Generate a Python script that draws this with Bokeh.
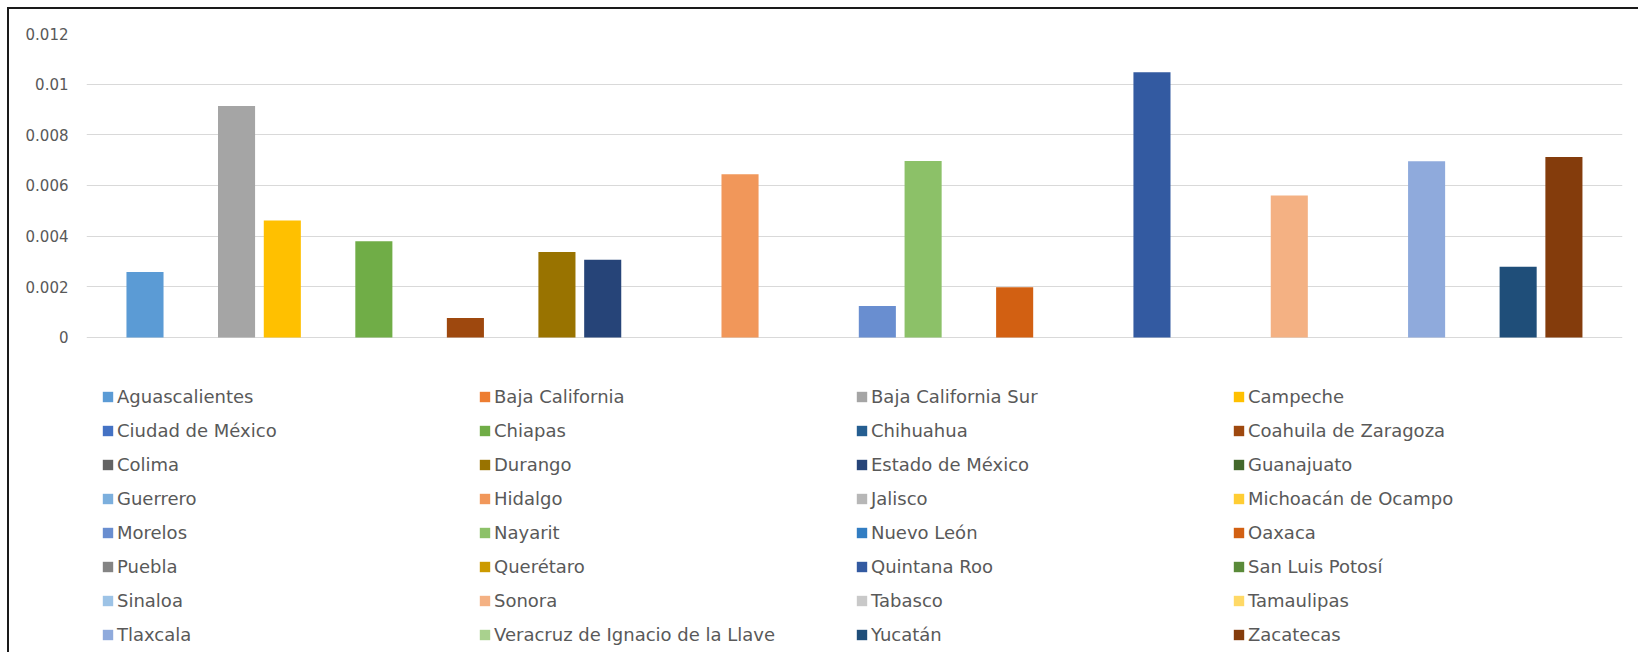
from bokeh.plotting import figure
from bokeh.models import ColumnDataSource, Range1d, FixedTicker, Legend, LegendItem
from bokeh.embed import file_html
from bokeh.resources import INLINE

states = [
    "Aguascalientes", "Baja California", "Baja California Sur", "Campeche",
    "Ciudad de México", "Chiapas", "Chihuahua", "Coahuila de Zaragoza",
    "Colima", "Durango", "Estado de México", "Guanajuato",
    "Guerrero", "Hidalgo", "Jalisco", "Michoacán de Ocampo",
    "Morelos", "Nayarit", "Nuevo León", "Oaxaca",
    "Puebla", "Querétaro", "Quintana Roo", "San Luis Potosí",
    "Sinaloa", "Sonora", "Tabasco", "Tamaulipas",
    "Tlaxcala", "Veracruz de Ignacio de la Llave", "Yucatán", "Zacatecas",
]
values = [
    0.00258, 0.0, 0.00914, 0.00462,
    0.0, 0.00380, 0.0, 0.00077,
    0.0, 0.00337, 0.00307, 0.0,
    0.0, 0.00644, 0.0, 0.0,
    0.00124, 0.00697, 0.0, 0.00198,
    0.0, 0.0, 0.01047, 0.0,
    0.0, 0.00560, 0.0, 0.0,
    0.00696, 0.0, 0.00279, 0.00712,
]
colors = [
    "#5B9BD5", "#ED7D31", "#A5A5A5", "#FFC000",
    "#4472C4", "#70AD47", "#255E91", "#9E480E",
    "#636363", "#997300", "#264478", "#43682B",
    "#7CAFDD", "#F1975A", "#B7B7B7", "#FFCD33",
    "#698ED0", "#8CC168", "#327DC2", "#D26012",
    "#848484", "#CC9A00", "#335AA1", "#5A8A39",
    "#9DC3E6", "#F4B183", "#C9C9C9", "#FFD966",
    "#8FAADC", "#A9D18E", "#1F4E79", "#843C0C",
]
y_ticks = [0, 0.002, 0.004, 0.006, 0.008, 0.01, 0.012]
y_tick_labels = ["0", "0.002", "0.004", "0.006", "0.008", "0.01", "0.012"]

source = ColumnDataSource(dict(
    x=list(range(len(states))), top=values, color=colors, state=states,
))

p = figure(
    width=1631, height=645, output_backend="svg", toolbar_location=None,
    x_range=Range1d(-1.278, 32.28), y_range=Range1d(-0.0122, 0.012),
    min_border_left=77, min_border_right=18, min_border_top=24, min_border_bottom=8,
    styles={"margin-left": "7px", "margin-top": "7px",
            "border-left": "2px solid #1a1a1a", "border-top": "2px solid #1a1a1a"},
)
p.outline_line_color = None
p.background_fill_color = "white"
p.border_fill_color = "white"

r = p.vbar(x="x", top="top", bottom=0, width=0.81, fill_color="color",
           line_color=None, source=source)

p.xaxis.visible = False
p.xgrid.visible = False

p.yaxis.ticker = FixedTicker(ticks=y_ticks)
p.yaxis.major_label_overrides = {t: l for t, l in zip(y_ticks, y_tick_labels)}
p.yaxis.axis_line_color = None
p.yaxis.major_tick_line_color = None
p.yaxis.minor_tick_line_color = None
p.yaxis.major_tick_out = 0
p.yaxis.major_tick_in = 0
p.yaxis.major_label_standoff = 18
p.yaxis.major_label_text_font = "DejaVu Sans"
p.yaxis.major_label_text_font_size = "15px"
p.yaxis.major_label_text_color = "#595959"
p.ygrid.ticker = FixedTicker(ticks=y_ticks)
p.ygrid.grid_line_color = "#D9D9D9"
p.ygrid.grid_line_width = 1

items = [LegendItem(label=s, renderers=[r], index=i) for i, s in enumerate(states)]
legend = Legend(
    items=items, location=(15, 1), orientation="horizontal", ncols=4,
    glyph_width=13, glyph_height=13, label_height=20, label_width=348,
    label_standoff=3, spacing=13, padding=0, margin=0,
    border_line_color=None, background_fill_alpha=0,
    label_text_font="DejaVu Sans", label_text_font_size="18px",
    label_text_color="#595959",
)
p.add_layout(legend)

open("out.html", "w").write(file_html(p, INLINE))
